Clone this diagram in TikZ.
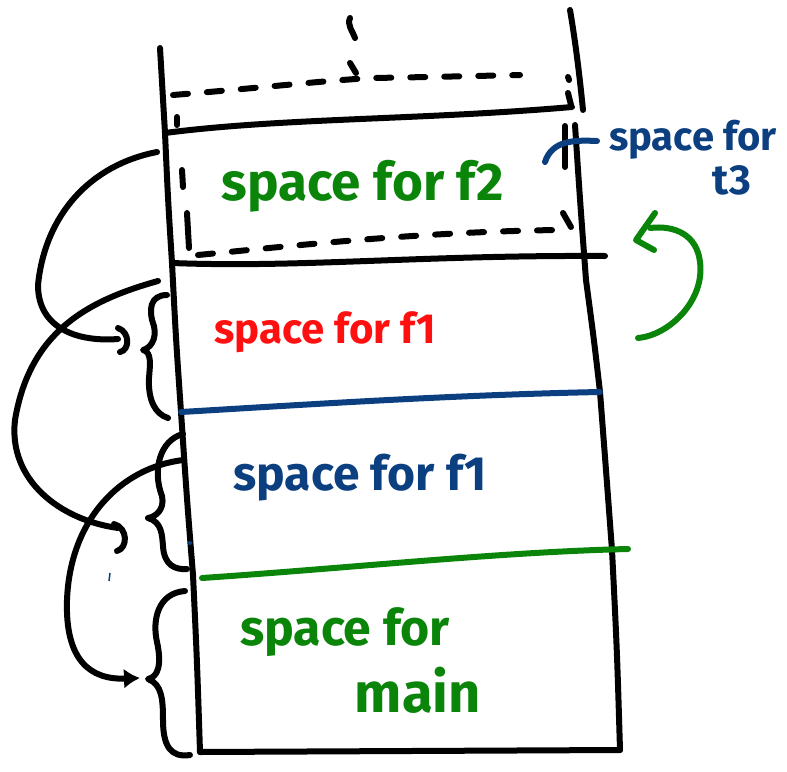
\documentclass[tikz,border=0pt]{standalone}
\usepackage{fontspec}
\setmainfont{Fira Sans}
\usetikzlibrary{arrows.meta}
\definecolor{pgreen}{HTML}{0A850A}
\definecolor{pred}{HTML}{FF1010}
\definecolor{pblue}{HTML}{0B3F80}
\tikzset{
  ink/.style={line width=6pt, line cap=round, line join=round},
  dashink/.style={ink, dash pattern=on 15pt off 19pt},
  lbl/.style={inner sep=0pt, font=\fontsize{#1}{#1}\selectfont\bfseries},
}
\begin{document}
\begin{tikzpicture}[x=1pt,y=-1pt]
\useasboundingbox (0,0) rectangle (787,771);
% ---------- coordinates ----------
\coordinate (LW0) at (160,48);
\coordinate (LW1) at (165,133);
\coordinate (LW2) at (172,263);
\coordinate (LW3) at (181,412);
\coordinate (LW4) at (193,575);
\coordinate (LW5) at (200,752);
\coordinate (RT0) at (570,10);
\coordinate (RT1) at (583,110);
\coordinate (RW0) at (575,125);
\coordinate (RW1) at (586,280);
\coordinate (RW2) at (600,392);
\coordinate (RW3) at (612,550);
\coordinate (RW4) at (620,750);
% ---------- stack walls ----------
\draw[ink] (RT0) .. controls (576,45) and (580,80) .. (RT1);
\draw[ink] (LW0) .. controls (162,90) .. (LW1) .. controls (168,200) .. (LW2)
  .. controls (176,340) .. (LW3) .. controls (187,500) .. (LW4) .. controls (197,660) .. (LW5);
\draw[ink] (RW0) .. controls (580,200) .. (RW1) .. controls (594,340) .. (RW2)
  .. controls (606,470) .. (RW3) .. controls (617,650) .. (RW4);
% ---------- horizontal lines ----------
\draw[ink] (LW1) .. controls (280,118) and (420,120) .. (572,107);
\draw[ink] (LW2) .. controls (300,268) and (420,255) .. (605,256);
\draw[ink, pblue] (LW3) .. controls (300,405) and (450,395) .. (600,392);
\draw[ink, pgreen] (202,578) .. controls (350,568) and (500,552) .. (628,549);
\draw[ink] (LW5) -- (RW4);
% ---------- top dashed region ----------
\draw[ink] (350,18) .. controls (347,25) and (352,30) .. (355,38);
\draw[ink] (350,63) -- (356,73);
\draw[dashink] (173,95) .. controls (260,88) and (330,80) .. (373,78) .. controls (430,77) .. (520,75);
\draw[ink] (177,117) -- (177,125);
\draw[ink] (568,77) -- (569,80);
\draw[ink] (568,93) -- (571,105);
% ---------- dashed box around f2 ----------
\draw[ink] (182,170) -- (183,187);
\draw[ink] (187,213) -- (189,248);
\draw[dashink] (198,255) .. controls (300,245) and (420,232) .. (557,230);
\draw[ink] (563,213) -- (571,227);
\draw[ink] (565,126) -- (565,167);
% ---------- labels ----------
\node[lbl=53, text=pgreen] (tf2) at (363,186) {space for f2};
\node[lbl=42, text=pred] (tf1r) at (325,332) {space for f1};
\node[lbl=48, text=pblue] (tf1b) at (360,478) {space for f1};
\node[lbl=50, text=pgreen] (tm1) at (345,632) {space for};
\node[lbl=56, text=pgreen] (tm2) at (418,690) {main};
\node[lbl=40, text=pblue] (tt1) at (693,140) {space for};
\node[lbl=42, text=pblue] (tt2) at (732,180) {t3};
% ---------- t3 leader ----------
\coordinate (ld0) at (545,162);
\coordinate (ld1) at (597,141);
\draw[ink, pblue] (ld0) .. controls (552,140) and (575,140) .. (ld1);
% ---------- green return arrow ----------
\coordinate (ga0) at (638,338);
\coordinate (ga1) at (650,228);
\coordinate (gh1) at (655,213);
\coordinate (gtip) at (636,240);
\coordinate (gh2) at (654,250);
\draw[ink, pgreen] (ga0) .. controls (670,335) and (705,300) .. (700,262)
  .. controls (697,235) and (675,225) .. (ga1);
\draw[ink, pgreen] (gh1) -- (gtip) -- (gh2);
% ---------- left curves ----------
% curve 1 with hook
\coordinate (c1s) at (157,152);
\coordinate (c1e) at (118,339);
\draw[ink] (c1s) .. controls (90,165) and (45,215) .. (38,285)
  .. controls (38,330) and (80,342) .. (c1e);
\draw[ink] (118,328) .. controls (130,332) and (130,350) .. (120,352);
% brace 1
\draw[ink] (167,295) .. controls (150,295) and (148,310) .. (154,326)
  .. controls (157,340) and (150,348) .. (143,350)
  .. controls (152,352) and (150,365) .. (149,378)
  .. controls (148,400) and (155,414) .. (168,418);
% curve 2 with hook
\coordinate (c2s) at (158,281);
\coordinate (c2e) at (118,528);
\draw[ink] (c2s) .. controls (90,300) and (30,330) .. (15,420)
  .. controls (8,480) and (60,520) .. (c2e);
\draw[ink] (114,524) .. controls (128,528) and (128,548) .. (117,551);
% brace 2
\draw[ink] (183,434) .. controls (160,440) and (152,470) .. (162,496)
  .. controls (165,510) and (155,517) .. (148,518)
  .. controls (162,522) and (162,535) .. (163,546)
  .. controls (164,565) and (175,570) .. (187,569);
% curve 3 with arrow
\coordinate (c3s) at (183,460);
\coordinate (c3e) at (140,678);
\draw[ink, -{Latex[length=16pt,width=20pt]}] (c3s) .. controls (120,468) and (70,520) .. (67,600)
  .. controls (65,660) and (90,680) .. (c3e);
% brace 3
\draw[ink] (185,591) .. controls (158,593) and (152,620) .. (157,642)
  .. controls (162,665) and (158,677) .. (148,679)
  .. controls (162,684) and (163,700) .. (163,720)
  .. controls (163,745) and (170,758) .. (190,755);
% small blue marks
\fill[pblue] (190,543) circle (2pt);
\draw[pblue, line width=1.5pt] (110,573) -- (109,581);
\end{tikzpicture}
\end{document}
